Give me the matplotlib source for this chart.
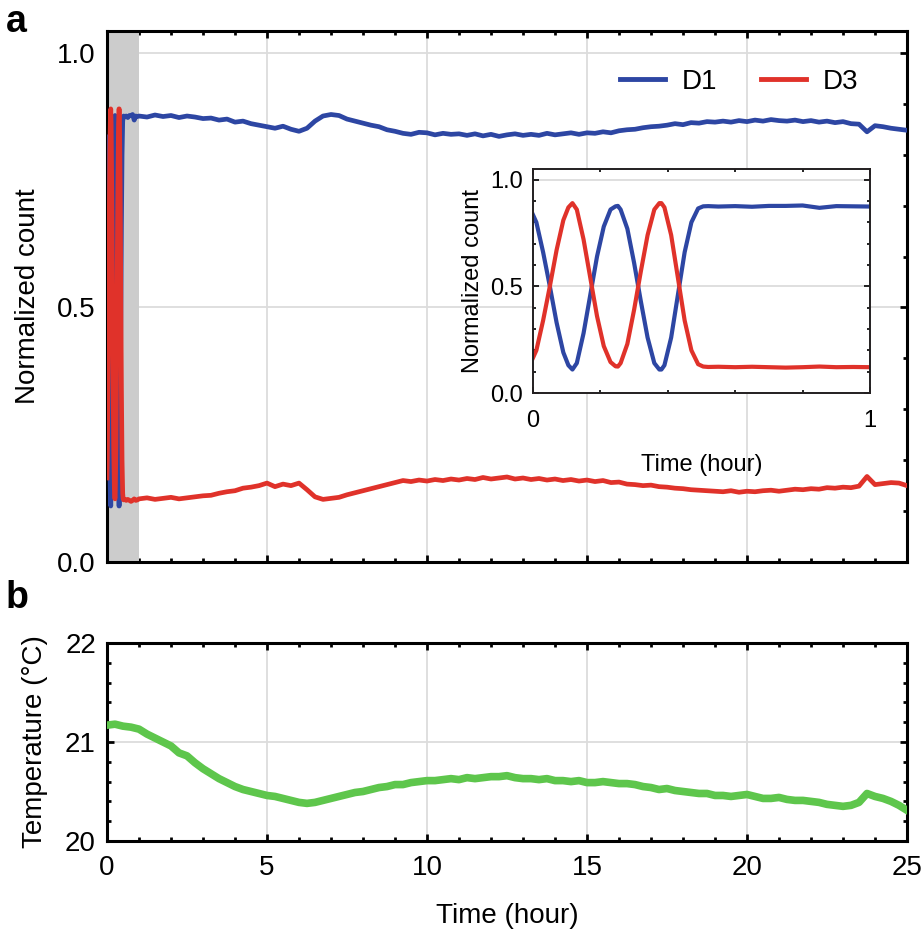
import numpy as np
import matplotlib
matplotlib.use("Agg")
import matplotlib.pyplot as plt
from matplotlib.ticker import MultipleLocator, FormatStrFormatter

plt.rcParams['font.family'] = ['Liberation Sans', 'DejaVu Sans']
plt.rcParams['font.size'] = 20

# ---------------- data ----------------
# inset: first hour (hours)
inset_t = [0, 0.01, 0.03, 0.05, 0.07, 0.09, 0.105, 0.117, 0.13, 0.15, 0.17, 0.19, 0.21,
           0.23, 0.245, 0.252, 0.26, 0.28, 0.30, 0.32, 0.34, 0.36, 0.375, 0.381, 0.39,
           0.41, 0.43, 0.45, 0.47, 0.49, 0.505, 0.52, 0.55, 0.6, 0.65, 0.7, 0.75, 0.8,
           0.85, 0.9, 0.95, 1.0]
inset_d1 = [0.835, 0.80, 0.66, 0.50, 0.33, 0.19, 0.13, 0.11, 0.14, 0.28, 0.46, 0.64, 0.78,
            0.86, 0.875, 0.877, 0.86, 0.77, 0.61, 0.43, 0.26, 0.14, 0.11, 0.11, 0.13,
            0.26, 0.46, 0.66, 0.80, 0.865, 0.875, 0.876, 0.874, 0.876, 0.873, 0.877, 0.877,
            0.879, 0.868, 0.876, 0.875, 0.874]
inset_d3 = [0.165, 0.20, 0.34, 0.50, 0.67, 0.81, 0.87, 0.89, 0.86, 0.72, 0.54, 0.36, 0.22,
            0.145, 0.125, 0.124, 0.14, 0.23, 0.39, 0.57, 0.74, 0.86, 0.89, 0.89, 0.87,
            0.74, 0.54, 0.34, 0.20, 0.135, 0.124, 0.122, 0.123, 0.121, 0.123, 0.121, 0.119,
            0.121, 0.124, 0.121, 0.122, 0.121]

# long run, 1 h .. 25 h every 0.25 h
long_t = [1.0 + 0.25 * i for i in range(97)]
long_d1 = [0.876, 0.874, 0.878, 0.875, 0.877, 0.873, 0.876, 0.874, 0.871,
           0.872, 0.868, 0.870, 0.864, 0.866, 0.861,
           0.858, 0.855, 0.852, 0.856, 0.850, 0.846,
           0.852, 0.866, 0.876, 0.879, 0.877,
           0.870, 0.866, 0.862, 0.858, 0.855, 0.849, 0.846,
           0.842, 0.840, 0.844, 0.843, 0.839, 0.842, 0.840, 0.841,
           0.838, 0.841, 0.837, 0.840, 0.836, 0.839, 0.841, 0.838,
           0.840, 0.838, 0.842, 0.839, 0.841, 0.843, 0.840, 0.843,
           0.842, 0.845, 0.843, 0.847, 0.849, 0.850, 0.853, 0.855,
           0.856, 0.858, 0.861, 0.859, 0.863, 0.862, 0.865, 0.864,
           0.866, 0.864, 0.867, 0.865, 0.868, 0.866, 0.869, 0.867,
           0.866, 0.868, 0.865, 0.867, 0.864, 0.866, 0.863, 0.865,
           0.861, 0.860, 0.845, 0.857, 0.855, 0.852, 0.850, 0.848]
long_d3 = [0.124, 0.126, 0.123, 0.125, 0.127, 0.124, 0.126, 0.128, 0.130,
           0.131, 0.135, 0.138, 0.140, 0.145, 0.147,
           0.150, 0.155, 0.148, 0.153, 0.150, 0.155,
           0.142, 0.128, 0.123, 0.125, 0.127,
           0.132, 0.136, 0.140, 0.144, 0.148, 0.152, 0.156,
           0.160, 0.158, 0.161, 0.159, 0.162, 0.160, 0.163, 0.161,
           0.164, 0.162, 0.166, 0.163, 0.165, 0.167, 0.163, 0.165,
           0.162, 0.164, 0.161, 0.163, 0.160, 0.162, 0.159, 0.161,
           0.158, 0.160, 0.156, 0.157, 0.153, 0.152, 0.150, 0.151,
           0.148, 0.147, 0.145, 0.144, 0.142, 0.141, 0.140, 0.139,
           0.138, 0.140, 0.137, 0.139, 0.138, 0.140, 0.141, 0.139,
           0.141, 0.143, 0.142, 0.144, 0.143, 0.146, 0.145, 0.147,
           0.146, 0.149, 0.168, 0.152, 0.154, 0.156, 0.155, 0.150]

# temperature, 0 .. 25 h every 0.25 h
temp_t = [0.25 * i for i in range(101)]
temp_c = [21.17, 21.18, 21.16, 21.15, 21.13,
          21.08, 21.04, 21.00, 20.96,
          20.89, 20.86, 20.79, 20.73,
          20.68, 20.63, 20.59, 20.55,
          20.52, 20.50, 20.48, 20.46,
          20.45, 20.43, 20.41, 20.39,
          20.38, 20.39, 20.41, 20.43,
          20.45, 20.47, 20.49, 20.50,
          20.52, 20.54, 20.55, 20.57,
          20.57, 20.59, 20.60, 20.61,
          20.61, 20.62, 20.63, 20.62,
          20.64, 20.63, 20.64, 20.65,
          20.65, 20.66, 20.64, 20.63,
          20.63, 20.62, 20.63, 20.61,
          20.61, 20.60, 20.61, 20.59,
          20.59, 20.60, 20.59, 20.58,
          20.58, 20.57, 20.55, 20.54,
          20.52, 20.53, 20.51, 20.50,
          20.49, 20.48, 20.48, 20.46,
          20.46, 20.45, 20.46, 20.47,
          20.45, 20.43, 20.43, 20.44,
          20.42, 20.41, 20.41, 20.40,
          20.39, 20.37, 20.36, 20.35,
          20.36, 20.39, 20.48, 20.45,
          20.43, 20.40, 20.36, 20.31]

series_names = ["D1", "D3"]
BLUE = "#2d46a3"
RED = "#e0322a"
GREEN = "#5ec64c"
GRID = "#dcdcdc"

# full traces
full_t = inset_t[:-1] + long_t
full_d1 = inset_d1[:-1] + long_d1
full_d3 = inset_d3[:-1] + long_d3

W, H = 923, 944
fig = plt.figure(figsize=(W / 100, H / 100), dpi=100)


def box(l, t, r, b):
    return [l / W, 1 - b / H, (r - l) / W, (b - t) / H]


def style(ax, lw=2.2, maj=5, mnr=3):
    for s in ax.spines.values():
        s.set_linewidth(lw)
        s.set_color("black")
    ax.tick_params(which="both", direction="in", top=True, right=True, width=lw * 0.9)
    ax.tick_params(which="major", length=maj)
    ax.tick_params(which="minor", length=mnr)
    ax.grid(True, which="major", color=GRID, lw=1.3)
    ax.set_axisbelow(True)


# ---------- panel a ----------
ax = fig.add_axes(box(107, 31, 907, 562))
style(ax)
ax.axvspan(0, 1, color="#cccccc", lw=0, zorder=0.8)
ax.plot(full_t, full_d1, color=BLUE, lw=3.4, label=series_names[0], zorder=3)
ax.plot(full_t, full_d3, color=RED, lw=3.4, label=series_names[1], zorder=3)
ax.set_xlim(0, 25)
ax.set_ylim(0, 1.043)
ax.xaxis.set_major_locator(MultipleLocator(5))
ax.xaxis.set_minor_locator(MultipleLocator(1))
ax.yaxis.set_major_locator(MultipleLocator(0.5))
ax.yaxis.set_minor_locator(MultipleLocator(0.1))
ax.yaxis.set_major_formatter(FormatStrFormatter("%.1f"))
ax.tick_params(axis="x", labelbottom=False)
ax.tick_params(axis="y", pad=8)
ax.set_ylabel("Normalized count", labelpad=12)
leg = ax.legend(loc="upper right", bbox_to_anchor=(0.956, 0.955), ncol=2, frameon=False,
                handlelength=1.6, handletextpad=0.6, columnspacing=1.6, borderpad=0,
                fontsize=20)
for h in leg.get_lines():
    h.set_linewidth(3.5)
fig.text(6 / W, 1 - 22 / H, "a", fontsize=27, fontweight="bold", va="center", ha="left")

# ---------- inset ----------
axi = fig.add_axes(box(533, 169, 870, 393))
axi.set_facecolor("white")
for s in axi.spines.values():
    s.set_linewidth(1.4)
    s.set_color("#231f20")
axi.tick_params(which="both", direction="in", top=True, right=True, width=1.2)
axi.tick_params(which="major", length=4)
axi.tick_params(which="minor", length=2.5)
axi.grid(True, which="major", axis="y", color=GRID, lw=1.3)
axi.set_axisbelow(True)
axi.plot(inset_t, inset_d1, color=BLUE, lw=3.0)
axi.plot(inset_t, inset_d3, color=RED, lw=3.0)
axi.set_xlim(0, 1)
axi.set_ylim(0, 1.05)
axi.set_xticks([0, 1])
axi.set_xticklabels(["0", "1"])
axi.xaxis.set_minor_locator(MultipleLocator(0.2))
axi.yaxis.set_major_locator(MultipleLocator(0.5))
axi.yaxis.set_minor_locator(MultipleLocator(0.1))
axi.yaxis.set_major_formatter(FormatStrFormatter("%.1f"))
axi.tick_params(axis="x", pad=12, labelsize=17)
axi.tick_params(axis="y", pad=7, labelsize=17)
axi.set_xlabel("Time (hour)", fontsize=17, labelpad=16)
axi.set_ylabel("Normalized count", fontsize=17, labelpad=5)

# ---------- panel b ----------
axb = fig.add_axes(box(107, 643, 907, 841))
style(axb)
axb.plot(temp_t, temp_c, color=GREEN, lw=5.5, zorder=3)
axb.set_xlim(0, 25)
axb.set_ylim(20, 22)
axb.xaxis.set_major_locator(MultipleLocator(5))
axb.xaxis.set_minor_locator(MultipleLocator(1))
axb.yaxis.set_major_locator(MultipleLocator(1))
axb.yaxis.set_minor_locator(MultipleLocator(0.2))
axb.tick_params(axis="x", pad=10)
axb.tick_params(axis="y", pad=8)
axb.set_xlabel("Time (hour)", labelpad=16)
axb.set_ylabel("Temperature (°C)", labelpad=12)
fig.text(6 / W, 1 - 598 / H, "b", fontsize=27, fontweight="bold", va="center", ha="left")

fig.savefig("out.png", dpi=100)
